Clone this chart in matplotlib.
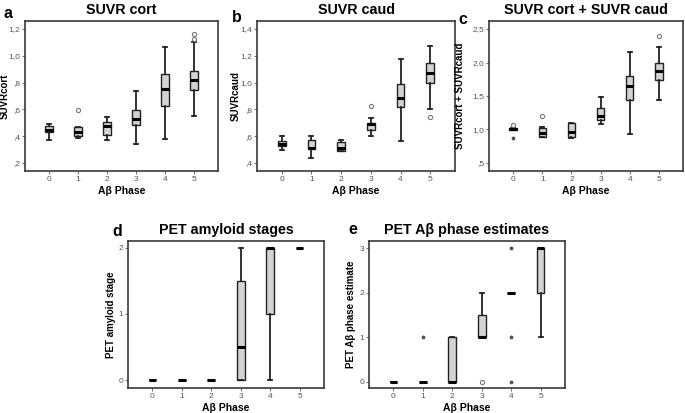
import matplotlib
matplotlib.use("Agg")
import matplotlib.pyplot as plt

plt.rcParams['font.family'] = ['Liberation Sans', 'DejaVu Sans']

phases = [0, 1, 2, 3, 4, 5]
phase_labels = ['0', '1', '2', '3', '4', '5']

# Panel a: SUVR cort  (whislo, q1, med, q3, whishi)
a_whislo = [0.374, 0.384, 0.371, 0.341, 0.379, 0.547]
a_q1     = [0.428, 0.403, 0.411, 0.485, 0.622, 0.746]
a_med    = [0.448, 0.430, 0.478, 0.530, 0.751, 0.818]
a_q3     = [0.473, 0.465, 0.508, 0.597, 0.867, 0.890]
a_whishi = [0.493, 0.470, 0.542, 0.741, 1.066, 1.106]
a_out    = [[], [0.597], [], [], [], [1.128, 1.160]]
a_ext    = [[], [], [], [], [], []]

# Panel b: SUVR caud
b_whislo = [0.494, 0.435, 0.487, 0.603, 0.564, 0.802]
b_q1     = [0.529, 0.504, 0.492, 0.648, 0.817, 1.000]
b_med    = [0.544, 0.514, 0.514, 0.688, 0.884, 1.072]
b_q3     = [0.566, 0.569, 0.554, 0.698, 0.993, 1.147]
b_whishi = [0.598, 0.603, 0.574, 0.735, 1.179, 1.276]
b_out    = [[], [], [], [0.827], [], [0.740]]
b_ext    = [[], [], [], [], [], []]

# Panel c: SUVR cort + SUVR caud
c_whislo = [0.990, 0.887, 0.880, 1.086, 0.937, 1.443]
c_q1     = [0.993, 0.893, 0.893, 1.145, 1.433, 1.741]
c_med    = [1.008, 0.952, 0.967, 1.195, 1.651, 1.880]
c_q3     = [1.015, 1.027, 1.100, 1.319, 1.800, 1.999]
c_whishi = [1.020, 1.030, 1.100, 1.478, 2.163, 2.237]
c_out    = [[1.060], [1.205], [], [], [], [2.400]]
c_ext    = [[0.878], [], [], [], [], []]

# Panel d: PET amyloid stages
d_whislo = [0, 0, 0, 0, 0, 2]
d_q1     = [0, 0, 0, 0, 1, 2]
d_med    = [0, 0, 0, 0.5, 2, 2]
d_q3     = [0, 0, 0, 1.5, 2, 2]
d_whishi = [0, 0, 0, 2, 2, 2]
d_out    = [[], [], [], [], [], []]
d_ext    = [[], [], [], [], [], []]

# Panel e: PET Abeta phase estimates
e_whislo = [0, 0, 0, 1, 2, 1]
e_q1     = [0, 0, 0, 1, 2, 2]
e_med    = [0, 0, 0, 1, 2, 3]
e_q3     = [0, 0, 1, 1.5, 2, 3]
e_whishi = [0, 0, 1, 2, 2, 3]
e_out    = [[], [], [], [0], [], []]
e_ext    = [[], [1], [], [], [3, 1, 0], []]

a_ticks = [0.2, 0.4, 0.6, 0.8, 1.0, 1.2]
a_ticklabels = [',2', ',4', ',6', ',8', '1,0', '1,2']
b_ticks = [0.4, 0.6, 0.8, 1.0, 1.2, 1.4]
b_ticklabels = [',4', ',6', ',8', '1,0', '1,2', '1,4']
c_ticks = [0.5, 1.0, 1.5, 2.0, 2.5]
c_ticklabels = [',5', '1,0', '1,5', '2,0', '2,5']
d_ticks = [0, 1, 2]
d_ticklabels = ['0', '1', '2']
e_ticks = [0, 1, 2, 3]
e_ticklabels = ['0', '1', '2', '3']

W, H = 685, 413
fig = plt.figure(figsize=(W / 100, H / 100), dpi=100)


def px_axes(l, t, r, b):
    return fig.add_axes([l / W, 1 - b / H, (r - l) / W, (b - t) / H])


FRAME = '#3a3a3a'
TICKC = '#555555'


def panel(ax, lo, q1, med, q3, hi, out, ext, ticks, ticklabels, ylim,
          title, ylabel, letter, letter_xy, ylabel_px, title_fs=10.3):
    stats = []
    for i in range(len(phases)):
        stats.append(dict(whislo=lo[i], q1=q1[i], med=med[i], q3=q3[i],
                          whishi=hi[i], fliers=out[i]))
    ax.bxp(stats, positions=phases, widths=0.26, patch_artist=True,
           showfliers=True, capwidths=0.14,
           boxprops=dict(facecolor='#d3d3d3', edgecolor='#222222', linewidth=1.0),
           medianprops=dict(color='black', linewidth=2.2, solid_capstyle='butt'),
           whiskerprops=dict(color='#222222', linewidth=1.3),
           capprops=dict(color='#222222', linewidth=1.3),
           flierprops=dict(marker='o', markersize=3, markerfacecolor='none',
                           markeredgecolor='#777777', markeredgewidth=0.8))
    for i, vals in enumerate(ext):
        if vals:
            ax.plot([phases[i]] * len(vals), vals, linestyle='none', marker='*',
                    markersize=2.5, color='#555555')
    ax.set_xlim(-0.83, 5.83)
    ax.set_ylim(*ylim)
    ax.set_xticks(phases)
    ax.set_xticklabels(phase_labels)
    ax.set_yticks(ticks)
    ax.set_yticklabels(ticklabels)
    ax.tick_params(axis='both', labelsize=6, colors=TICKC, length=2,
                   width=0.6, pad=1.5)
    for s in ax.spines.values():
        s.set_color(FRAME)
        s.set_linewidth(1.2)
    ax.set_xlabel('Aβ Phase', fontsize=7.5, fontweight='bold', labelpad=2)
    ax.set_ylabel(ylabel, fontsize=7, fontweight='bold')
    wpx = ax.get_position().width * W
    ax.yaxis.set_label_coords(ylabel_px / wpx, 0.5)
    ax.set_title(title, fontsize=title_fs, fontweight='bold', pad=5)
    fig.text(letter_xy[0] / W, 1 - letter_xy[1] / H, letter, fontsize=11.5,
             fontweight='bold', ha='center', va='center')


ax_a = px_axes(25, 21, 218, 171)
panel(ax_a, a_whislo, a_q1, a_med, a_q3, a_whishi, a_out, a_ext,
      a_ticks, a_ticklabels, (0.14, 1.26), 'SUVR cort', 'SUVRcort', 'a', (8, 13), -15)

ax_b = px_axes(257, 21, 455, 171)
panel(ax_b, b_whislo, b_q1, b_med, b_q3, b_whishi, b_out, b_ext,
      b_ticks, b_ticklabels, (0.34, 1.46), 'SUVR caud', 'SUVRcaud', 'b', (237, 17), -16)

ax_c = px_axes(489, 21, 683, 171)
panel(ax_c, c_whislo, c_q1, c_med, c_q3, c_whishi, c_out, c_ext,
      c_ticks, c_ticklabels, (0.38, 2.62), 'SUVR cort + SUVR caud',
      'SUVRcort + SUVRcaud', 'c', (463, 19), -24)

ax_d = px_axes(128, 241, 324, 388)
panel(ax_d, d_whislo, d_q1, d_med, d_q3, d_whishi, d_out, d_ext,
      d_ticks, d_ticklabels, (-0.12, 2.1), 'PET amyloid stages',
      'PET amyloid stage', 'd', (117, 232), -12)

ax_e = px_axes(369, 241, 565, 388)
panel(ax_e, e_whislo, e_q1, e_med, e_q3, e_whishi, e_out, e_ext,
      e_ticks, e_ticklabels, (-0.135, 3.16), 'PET Aβ phase estimates',
      'PET Aβ phase estimate', 'e', (353, 229), -13)

fig.savefig('out.png', dpi=100)
